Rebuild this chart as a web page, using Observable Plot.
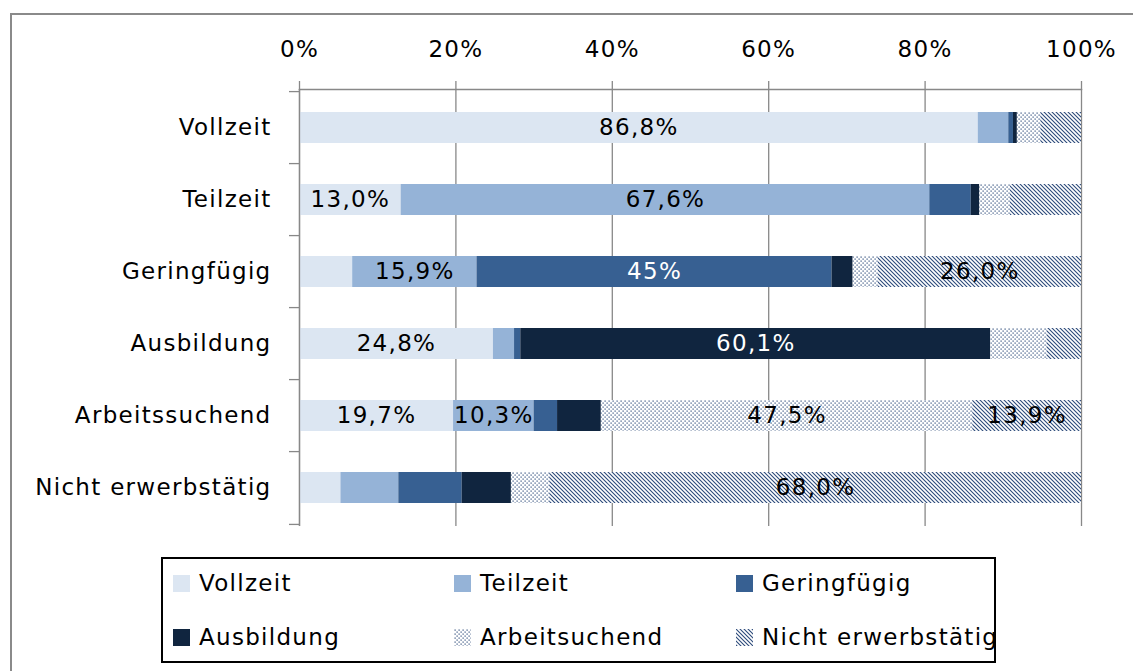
<!DOCTYPE html>
<html><head><meta charset="utf-8">
<script src="https://cdn.jsdelivr.net/npm/d3@7"></script>
<script src="https://cdn.jsdelivr.net/npm/@observablehq/plot@0.6"></script>
<style>
body{margin:0;background:#fff;}
#wrap{position:relative;width:1133px;height:671px;overflow:hidden;font-family:"DejaVu Sans",sans-serif;background:#fff;}
#frame{position:absolute;left:10px;top:13px;right:-10px;bottom:-10px;border-left:2px solid #8a8a8a;border-top:2px solid #8a8a8a;}
#chart{position:absolute;left:0;top:0;}
#legend{position:absolute;left:161px;top:557px;width:831px;height:102px;border:2px solid #000;}
.item{position:absolute;display:flex;align-items:center;height:26px;font-size:23px;letter-spacing:1.3px;color:#000;white-space:nowrap;}
.sw{width:17px;height:17px;margin-right:9px;display:block;}
#defs{position:absolute;width:0;height:0;}
</style></head><body>
<svg id="defs" width="0" height="0">
  <defs>
    <pattern id="dots" patternUnits="userSpaceOnUse" width="4" height="4">
      <rect width="4" height="4" fill="#fff"/>
      <rect x="0.5" y="0.5" width="1.2" height="1.2" fill="#2c4a7a"/>
      <rect x="2.5" y="2.5" width="1.2" height="1.2" fill="#2c4a7a"/>
    </pattern>
    <pattern id="hatch" patternUnits="userSpaceOnUse" width="4" height="4">
      <rect width="4" height="4" fill="#fff"/>
      <path d="M-1,-1 L5,5 M-1,3 L1,5 M3,-1 L5,1" stroke="#2c4a7a" stroke-width="1.1"/>
    </pattern>
  </defs>
</svg>
<div id="wrap"><div id="frame"></div><div id="chart"></div><div id="legend"></div></div>
<script>
// Categories (rows) and series (stack segments)
const categories = ["Vollzeit","Teilzeit","Geringfügig","Ausbildung","Arbeitssuchend","Nicht erwerbstätig"];
const series = ["Vollzeit","Teilzeit","Geringfügig","Ausbildung","Arbeitsuchend","Nicht erwerbstätig"];
const seriesFills = ["#dce6f2","#95b3d7","#376092","#10253f","url(#dots)","url(#hatch)"];
const labelColors = ["#000","#000","#fff","#fff","#000","#000"];

// Series values (percent), one value per category in order above
const vollzeitValues   = [86.8, 13.0,  6.8, 24.8, 19.7,  5.3];
const teilzeitValues   = [ 3.9, 67.6, 15.9,  2.7, 10.3,  7.4];
const geringValues     = [ 0.6,  5.3, 45.4,  0.8,  3.0,  8.1];
const ausbildungValues = [ 0.5,  1.1,  2.7, 60.1,  5.6,  6.3];
const arbeitsValues    = [ 3.0,  3.9,  3.2,  7.2, 47.5,  4.9];
const nichtValues      = [ 5.2,  9.1, 26.0,  4.4, 13.9, 68.0];

// Data labels as printed in the chart
const vollzeitLabels   = ["86,8%","13,0%","","24,8%","19,7%",""];
const teilzeitLabels   = ["","67,6%","15,9%","","10,3%",""];
const geringLabels     = ["","","45%","","",""];
const ausbildungLabels = ["","","","60,1%","",""];
const arbeitsLabels    = ["","","","","47,5%",""];
const nichtLabels      = ["","","26,0%","","13,9%","68,0%"];

const xTicks = [0, 20, 40, 60, 80, 100];

const valueSets = [vollzeitValues, teilzeitValues, geringValues, ausbildungValues, arbeitsValues, nichtValues];
const labelSets = [vollzeitLabels, teilzeitLabels, geringLabels, ausbildungLabels, arbeitsLabels, nichtLabels];

const data = [];
categories.forEach((c, ci) => {
  series.forEach((s, si) => {
    data.push({category: c, series: s, value: valueSets[si][ci], label: labelSets[si][ci],
               fill: seriesFills[si], textColor: labelColors[si]});
  });
});

const marginTop = 89, marginBottom = 19, height = 545;
const step = (height - marginTop - marginBottom) / categories.length;
const grey = "#888";
const fs = 23;

const chart = Plot.plot({
  width: 1133,
  height,
  marginLeft: 299,
  marginRight: 52,
  marginTop,
  marginBottom,
  style: {fontFamily: "DejaVu Sans, sans-serif", fontSize: fs + "px", letterSpacing: "1.3px", color: "#000", background: "transparent", overflow: "visible"},
  x: {domain: [0, 100], label: null},
  y: {domain: categories, paddingInner: 0.57, paddingOuter: 0.285, label: null},
  color: {type: "identity"},
  marks: [
    Plot.gridX(xTicks, {stroke: grey, strokeOpacity: 1, strokeWidth: 1.3}),
    Plot.frame({anchor: "top", stroke: grey, strokeWidth: 1.3}),
    Plot.axisX({anchor: "top", label: null, ticks: xTicks, tickFormat: d => d + "%", tickSize: 9, tickPadding: 24, stroke: grey, strokeWidth: 1.3, fontSize: fs, fill: "#000"}),
    Plot.axisY({anchor: "left", label: null, tickSize: 0, tickPadding: 28, fontSize: fs, fill: "#000"}),
    Plot.axisY({anchor: "left", label: null, tickSize: 10, tickFormat: () => "", dy: -step / 2, stroke: grey, strokeWidth: 1.3}),
    Plot.axisY({anchor: "left", label: null, ticks: [categories[categories.length - 1]], tickSize: 10, tickFormat: () => "", dy: step / 2, stroke: grey, strokeWidth: 1.3}),
    Plot.barX(data, Plot.stackX({x: "value", y: "category", fill: "fill"})),
    Plot.text(data, Plot.stackX({x: "value", y: "category", text: "label", fill: "textColor", fontSize: fs})),
    Plot.ruleX([0], {stroke: grey, strokeWidth: 1.3})
  ]
});
document.getElementById("chart").appendChild(chart);

// Legend
const legendPos = [
  {left: 10, top: 11}, {left: 291, top: 11}, {left: 573, top: 11},
  {left: 10, top: 65}, {left: 291, top: 65}, {left: 573, top: 65}
];
const legend = d3.select("#legend");
series.forEach((s, i) => {
  const item = legend.append("div").attr("class", "item")
    .style("left", legendPos[i].left + "px").style("top", legendPos[i].top + "px");
  const sw = item.append("svg").attr("class", "sw").attr("width", 17).attr("height", 17);
  sw.append("rect").attr("width", 17).attr("height", 17).attr("fill", seriesFills[i]);
  item.append("span").text(s);
});
</script>
</body></html>
